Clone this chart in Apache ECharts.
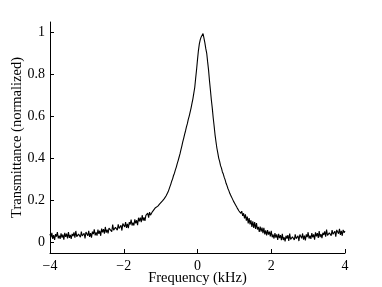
<!DOCTYPE html>
<html><head><meta charset="utf-8">
<script src="https://cdn.jsdelivr.net/npm/echarts@6/dist/echarts.min.js"></script>
<style>html,body{margin:0;padding:0;background:#fff}#c{width:382px;height:287px}</style>
</head><body><div id="c"></div>
<script>
const freqStart = -4;
const freqStep = 0.025;
const transmittance = [
.041,.024,.046,.017, .035,.012,.040,.028, .050,.020,.033,.017, .044,.023,.038,.013,
.046,.027,.042,.019, .050,.022,.036,.017, .041,.031,.048,.023, .055,.028,.021,.040,
.046,.025,.052,.031, .023,.044,.019,.050, .049,.032,.055,.027, .045,.023,.052,.040,
.063,.034,.048,.033, .061,.041,.056,.032, .066,.048,.064,.042, .074,.047,.061,.043,
.068,.059,.076,.052, .085,.059,.052,.072, .079,.059,.086,.067, .060,.082,.057,.090,
.089,.074,.097,.070, .089,.068,.097,.086, .109,.081,.095,.081, .110,.091,.106,.083,
.118,.101,.118,.097, .130,.104,.119,.103, .129,.122,.140,.118, .145,.130,.130,.146,
.154,.144,.164,.156, .160,.173,.168,.184, .186,.192,.198,.204, .209,.216,.223,.231,
.240,.252,.265,.277, .292,.303,.319,.330, .346,.359,.376,.390, .406,.422,.441,.459,
.479,.496,.515,.531, .551,.566,.586,.602, .621,.640,.662,.684, .711,.738,.782,.824,
.871,.914,.946,.966, .979,.986,.995,.973, .951,.923,.901,.860, .821,.770,.726,.680,
.641,.595,.556,.514, .481,.450,.427,.402, .386,.366,.354,.336, .326,.310,.298,.282,
.271,.257,.247,.234, .226,.216,.208,.197, .192,.181,.177,.165, .166,.150,.156,.139,
.149,.127,.139,.115, .134,.104,.123,.091, .116,.086,.106,.074, .101,.070,.097,.065,
.093,.062,.074,.050, .076,.052,.071,.045, .070,.039,.058,.034, .059,.038,.052,.029,
.056,.025,.038,.019, .045,.023,.039,.012, .041,.021,.035,.011, .041,.012,.025,.005,
.032,.019,.035,.008, .042,.015,.008,.027, .033,.012,.039,.018, .011,.032,.007,.038,
.037,.020,.043,.014, .033,.010,.039,.026, .049,.019,.033,.017, .045,.024,.039,.014,
.048,.029,.045,.022, .054,.026,.040,.021, .046,.036,.053,.028, .061,.034,.027,.046,
.053,.033,.059,.039, .032,.054,.028,.060, .059,.042,.065,.036, .055,.032,.060,.047,
.054
];
const xTicks = [-4, -2, 0, 2, 4];
const yTicks = [0, 0.2, 0.4, 0.6, 0.8, 1];
const xTitle = 'Frequency (kHz)';
const yTitle = 'Transmittance (normalized)';

const points = transmittance.map((v, i) => [+(freqStart + i * freqStep).toFixed(3), v]);
const font = '"Liberation Serif", "Times New Roman", serif';
const chart = echarts.init(document.getElementById('c'), null, {renderer: 'canvas'});
chart.setOption({
  animation: false,
  grid: {left: 50, right: 37, top: 22, bottom: 34, outerBoundsMode: 'none', containLabel: false},
  xAxis: {
    type: 'value', min: -4, max: 4, interval: 2,
    name: xTitle, nameLocation: 'middle', nameGap: 17.5, nameMoveOverlap: false,
    nameTextStyle: {fontFamily: font, fontSize: 14.5, color: '#000'},
    axisLine: {onZero: false, lineStyle: {color: '#000', width: 1}},
    axisTick: {inside: true, length: 4, lineStyle: {color: '#000'}, customValues: xTicks},
    axisLabel: {fontFamily: font, fontSize: 14, color: '#000', margin: 6,
      customValues: xTicks,
      formatter: v => String(v).replace('-', '\u2212')},
    splitLine: {show: false}
  },
  yAxis: {
    type: 'value', min: -0.05, max: 1.05,
    name: yTitle, nameLocation: 'middle', nameGap: 25, nameMoveOverlap: false,
    nameTextStyle: {fontFamily: font, fontSize: 14.5, color: '#000'},
    axisLine: {show: true, onZero: false, lineStyle: {color: '#000', width: 1}},
    axisTick: {show: true, inside: true, length: 4, lineStyle: {color: '#000'}, customValues: yTicks},
    axisLabel: {fontFamily: font, fontSize: 14, color: '#000', margin: 5,
      customValues: yTicks,
      formatter: v => String(+v.toFixed(1))},
    splitLine: {show: false}
  },
  series: [{
    type: 'line', data: points, showSymbol: false,
    lineStyle: {color: '#000', width: 1.1}
  }]
});
</script></body></html>
